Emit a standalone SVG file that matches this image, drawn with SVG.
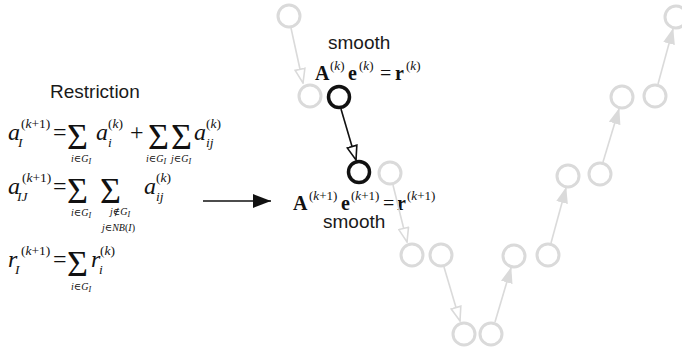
<svg xmlns="http://www.w3.org/2000/svg" width="682" height="352" viewBox="0 0 682 352">
<style>
.h{font-family:"Liberation Sans",Arial,sans-serif;font-size:19px;fill:#1a1a1a}
.m{font-family:"Liberation Serif","DejaVu Serif",serif;font-size:24px;fill:#111}
.it{font-style:italic}
.s{font-size:13.5px}
.ss{font-size:8px;font-style:italic}
.sig{font-size:36px}
.lim{font-size:10px}
.bm{font-family:"Liberation Serif","DejaVu Serif",serif;font-size:20px;fill:#111}
.b{font-weight:bold}
.bs{font-size:13px}
.g{fill:none;stroke:#dadada;stroke-width:3}
.k{fill:none;stroke:#111;stroke-width:3.5}
.gl{stroke:#dadada;stroke-width:1.6;fill:none}
.kl{stroke:#111;stroke-width:1.6;fill:none}
</style>
<defs>
<marker id="og" markerUnits="userSpaceOnUse" viewBox="0 0 16 12" refX="15" refY="6" markerWidth="16" markerHeight="12" orient="auto"><path d="M1,1 L15,6 L1,11 Z" fill="#fff" stroke="#dadada" stroke-width="1.6"/></marker>
<marker id="ok" markerUnits="userSpaceOnUse" viewBox="0 0 16 12" refX="15" refY="6" markerWidth="16" markerHeight="12" orient="auto"><path d="M1,1 L15,6 L1,11 Z" fill="#fff" stroke="#111" stroke-width="1.6"/></marker>
<marker id="fg" markerUnits="userSpaceOnUse" viewBox="0 0 16 12" refX="15" refY="6" markerWidth="16" markerHeight="12" orient="auto"><path d="M0,0 L16,6 L0,12 Z" fill="#dadada"/></marker>
<marker id="fk" markerUnits="userSpaceOnUse" viewBox="0 0 18 14" refX="18" refY="7" markerWidth="18" markerHeight="14" orient="auto"><path d="M0,0 L18,7 L0,14 Z" fill="#111"/></marker>
</defs>

<g id="restriction">
<text class="h" x="50" y="98">Restriction</text>
<text id="eq1" class="m"><tspan x="8" y="140" class="it">a</tspan><tspan x="18" y="147" class="s it">I</tspan><tspan x="21" y="128" class="s">(<tspan class="it">k</tspan>+1)</tspan><tspan x="53" y="140">=</tspan><tspan x="67" y="149" class="sig">Σ</tspan><tspan x="71" y="162" class="lim"><tspan class="it">i</tspan>∈<tspan class="it">G</tspan><tspan class="ss" dy="2">I</tspan></tspan><tspan x="96" y="140" class="it">a</tspan><tspan x="108" y="147" class="s it">i</tspan><tspan x="108" y="128" class="s">(<tspan class="it">k</tspan>)</tspan><tspan x="130" y="140">+</tspan><tspan x="148" y="149" class="sig">Σ</tspan><tspan x="171" y="149" class="sig">Σ</tspan><tspan x="146" y="162" class="lim"><tspan class="it">i</tspan>∈<tspan class="it">G</tspan><tspan class="ss" dy="2">I</tspan></tspan><tspan x="171" y="162" class="lim"><tspan class="it">j</tspan>∈<tspan class="it">G</tspan><tspan class="ss" dy="2">I</tspan></tspan><tspan x="194" y="140" class="it">a</tspan><tspan x="206" y="147" class="s it">ij</tspan><tspan x="206" y="128" class="s">(<tspan class="it">k</tspan>)</tspan></text>
<text id="eq2" class="m"><tspan x="8" y="194" class="it">a</tspan><tspan x="17" y="201" class="s it">IJ</tspan><tspan x="22" y="182" class="s">(<tspan class="it">k</tspan>+1)</tspan><tspan x="53" y="194">=</tspan><tspan x="67" y="203" class="sig">Σ</tspan><tspan x="100" y="203" class="sig">Σ</tspan><tspan x="71" y="216" class="lim"><tspan class="it">i</tspan>∈<tspan class="it">G</tspan><tspan class="ss" dy="2">I</tspan></tspan><tspan x="110" y="215" class="lim"><tspan class="it">j</tspan>∉<tspan class="it">G</tspan><tspan class="ss" dy="2">I</tspan></tspan><tspan x="102" y="231" class="lim"><tspan class="it">j</tspan>∈<tspan class="it">NB</tspan>(<tspan class="it">I</tspan>)</tspan><tspan x="144" y="194" class="it">a</tspan><tspan x="156" y="201" class="s it">ij</tspan><tspan x="156" y="182" class="s">(<tspan class="it">k</tspan>)</tspan></text>
<text id="eq3" class="m"><tspan x="8" y="267" class="it">r</tspan><tspan x="15" y="274" class="s it">I</tspan><tspan x="21" y="255" class="s">(<tspan class="it">k</tspan>+1)</tspan><tspan x="53" y="267">=</tspan><tspan x="67" y="276" class="sig">Σ</tspan><tspan x="71" y="290" class="lim"><tspan class="it">i</tspan>∈<tspan class="it">G</tspan><tspan class="ss" dy="2">I</tspan></tspan><tspan x="91" y="267" class="it">r</tspan><tspan x="99" y="274" class="s it">i</tspan><tspan x="100" y="255" class="s">(<tspan class="it">k</tspan>)</tspan></text>
</g>

<g id="labels">
<text class="h" x="328" y="49">smooth</text>
<text id="eqtop" class="bm"><tspan x="315" y="80" class="b">A</tspan><tspan x="330" y="70" class="bs">(<tspan class="it">k</tspan>)</tspan><tspan x="348" y="80" class="b">e</tspan><tspan x="359" y="70" class="bs">(<tspan class="it">k</tspan>)</tspan><tspan x="380" y="80">=</tspan><tspan x="395" y="80" class="b">r</tspan><tspan x="406" y="70" class="bs">(<tspan class="it">k</tspan>)</tspan></text>
<text id="eqbot" class="bm"><tspan x="293" y="210" class="b">A</tspan><tspan x="309" y="200" class="bs">(<tspan class="it">k</tspan>+1)</tspan><tspan x="341" y="210" class="b">e</tspan><tspan x="351" y="200" class="bs">(<tspan class="it">k</tspan>+1)</tspan><tspan x="383" y="210">=</tspan><tspan x="397" y="210" class="b">r</tspan><tspan x="407" y="200" class="bs">(<tspan class="it">k</tspan>+1)</tspan></text>
<text class="h" x="323" y="228">smooth</text>
</g>

<g id="nodes">
<circle id="g1" class="g" cx="289" cy="16" r="11"/>
<circle id="g2" class="g" cx="310" cy="96" r="11"/>
<circle id="b1" class="k" cx="339" cy="97" r="10.5"/>
<circle id="b2" class="k" cx="359" cy="172" r="10.5"/>
<circle id="g3" class="g" cx="390" cy="173" r="11"/>
<circle id="g4" class="g" cx="412" cy="255" r="11"/>
<circle id="g5" class="g" cx="441" cy="255" r="11"/>
<circle id="g6" class="g" cx="464" cy="334" r="11"/>
<circle id="g7" class="g" cx="491" cy="334" r="11"/>
<circle id="g8" class="g" cx="514" cy="256" r="11"/>
<circle id="g9" class="g" cx="548" cy="255" r="11"/>
<circle id="g10" class="g" cx="568" cy="176" r="11"/>
<circle id="g11" class="g" cx="600" cy="174" r="11"/>
<circle id="g12" class="g" cx="622" cy="97" r="11"/>
<circle id="g13" class="g" cx="655" cy="96" r="11"/>
<circle id="g14" class="g" cx="676" cy="17" r="11"/>
</g>

<g id="connectors">
<line class="kl" x1="203" y1="201" x2="271" y2="201" stroke-width="2" marker-end="url(#fk)"/>
<line class="gl" x1="291" y1="28" x2="303" y2="83" marker-end="url(#og)"/>
<line class="kl" x1="341" y1="109" x2="356" y2="160" marker-end="url(#ok)"/>
<line class="gl" x1="393" y1="185" x2="407" y2="242" marker-end="url(#og)"/>
<line class="gl" x1="444" y1="267" x2="460" y2="321" marker-end="url(#og)"/>
<line class="gl" x1="495" y1="322" x2="511" y2="268" marker-end="url(#fg)"/>
<line class="gl" x1="551" y1="243" x2="566" y2="188" marker-end="url(#fg)"/>
<line class="gl" x1="603" y1="162" x2="619" y2="109" marker-end="url(#fg)"/>
<line class="gl" x1="658" y1="84" x2="673" y2="29" marker-end="url(#fg)"/>
</g>
</svg>
